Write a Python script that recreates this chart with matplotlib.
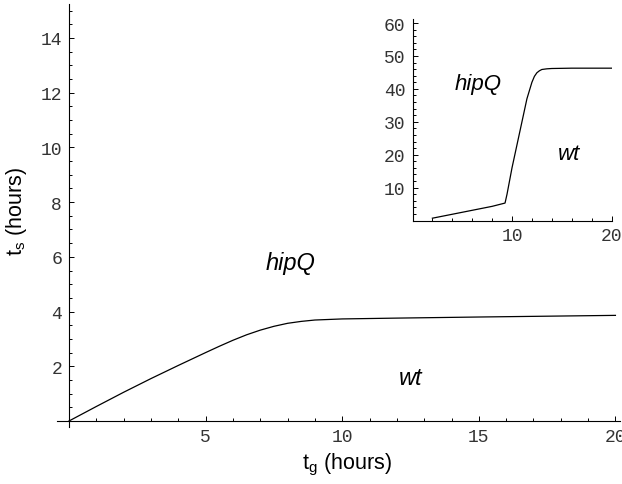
import numpy as np
import matplotlib
matplotlib.use("Agg")
import matplotlib.pyplot as plt
from matplotlib.ticker import FixedLocator

plt.rcParams['font.family'] = ['Liberation Sans', 'DejaVu Sans']
plt.rcParams['mathtext.fontset'] = 'custom'
plt.rcParams['mathtext.rm'] = 'Liberation Sans'
plt.rcParams['mathtext.it'] = 'Liberation Sans:italic'

# main curve: t_s vs t_g (hours)
tg = [0, 1, 2, 3, 4, 5, 5.5, 6, 6.5, 7, 7.5, 8, 8.5, 9, 9.5, 10, 12, 15, 20]
ts = [0, 0.53, 1.05, 1.55, 2.03, 2.5, 2.73, 2.95, 3.15, 3.32, 3.46, 3.57, 3.64, 3.69, 3.71, 3.73,
      3.76, 3.8, 3.86]

# inset curve
tg_in = [2, 4, 6, 8, 9.3, 9.5, 10, 10.5, 11, 11.5, 12, 12.25, 12.5, 12.75, 13, 13.5, 14, 16, 20]
ts_in = [0.7, 1.9, 3.1, 4.3, 5.3, 8, 16, 23, 30, 37, 42, 43.8, 44.9, 45.5, 45.9, 46.1, 46.2, 46.3, 46.3]

main_xticks = [5, 10, 15, 20]
main_yticks = [2, 4, 6, 8, 10, 12, 14]
inset_xticks = [10, 20]
inset_yticks = [10, 20, 30, 40, 50, 60]

W, H = 622, 485
fig = plt.figure(figsize=(W / 100, H / 100), dpi=100)


def style(ax):
    for s in ['top', 'right']:
        ax.spines[s].set_visible(False)
    for s in ['left', 'bottom']:
        ax.spines[s].set_linewidth(0.8)
    ax.tick_params(which='both', direction='in', width=0.7, colors='black')
    ax.tick_params(which='major', length=3.6, pad=5)
    ax.tick_params(which='minor', length=2.2)
    for lab in ax.get_xticklabels() + ax.get_yticklabels():
        lab.set_fontfamily('Liberation Mono')
        lab.set_fontsize(13)
        lab.set_color('#333333')


# main axes: x=0 at px 69, 27.32 px/unit; y=0 at px 422, 27.36 px/unit
xl = (-0.44, 20.15)
yl = (-0.22, 15.24)
sx, sy = 27.32, 27.36
ax = fig.add_axes([57 / W, (H - 428) / H, (xl[1] - xl[0]) * sx / W, (yl[1] - yl[0]) * sy / H])
ax.plot(tg, ts, color='black', lw=0.9)
ax.set_xlim(*xl)
ax.set_ylim(*yl)
ax.spines['left'].set_position(('data', 0))
ax.spines['bottom'].set_position(('data', 0))
ax.xaxis.set_major_locator(FixedLocator(main_xticks))
ax.yaxis.set_major_locator(FixedLocator(main_yticks))
ax.xaxis.set_minor_locator(FixedLocator(np.arange(1, 21, 1)))
ax.yaxis.set_minor_locator(FixedLocator(np.arange(0.5, 15.1, 0.5)))
ax.set_xticklabels([str(v) for v in main_xticks])
ax.set_yticklabels([str(v) for v in main_yticks])
style(ax)
ax.text(8.1, 5.8, 'hipQ', style='italic', fontsize=17, ha='center', va='center')
ax.text(12.5, 1.6, 'wt', style='italic', fontsize=17, ha='center', va='center')

fig.text(347 / W, 1 - 465 / H, r'$\mathregular{t_g}$ (hours)', fontsize=15.5, ha='center', va='center')
fig.text(17 / W, 1 - 212 / H, r'$\mathregular{t_s}$ (hours)', fontsize=15.5, ha='center', va='center',
         rotation=90)

# inset axes: x=0 at px 412.5, 9.95 px/unit; y=0 at px 221.5, 3.29 px/unit
ixl = (0, 20.1)
iyl = (0, 61.2)
isx, isy = 9.95, 3.29
axi = fig.add_axes([412.5 / W, (H - 221.5) / H, (ixl[1] - ixl[0]) * isx / W, (iyl[1] - iyl[0]) * isy / H])
axi.patch.set_alpha(0)
axi.plot(tg_in, ts_in, color='black', lw=0.9)
axi.set_xlim(*ixl)
axi.set_ylim(*iyl)
axi.xaxis.set_major_locator(FixedLocator(inset_xticks))
axi.yaxis.set_major_locator(FixedLocator(inset_yticks))
axi.xaxis.set_minor_locator(FixedLocator(np.arange(2, 21, 2)))
axi.yaxis.set_minor_locator(FixedLocator(np.arange(2, 61, 2)))
axi.set_xticklabels([str(v) for v in inset_xticks])
axi.set_yticklabels([str(v) for v in inset_yticks])
style(axi)
axi.text(6.6, 41.5, 'hipQ', style='italic', fontsize=16, ha='center', va='center')
axi.text(15.7, 20.5, 'wt', style='italic', fontsize=16, ha='center', va='center')

fig.savefig('out.png', dpi=100)
